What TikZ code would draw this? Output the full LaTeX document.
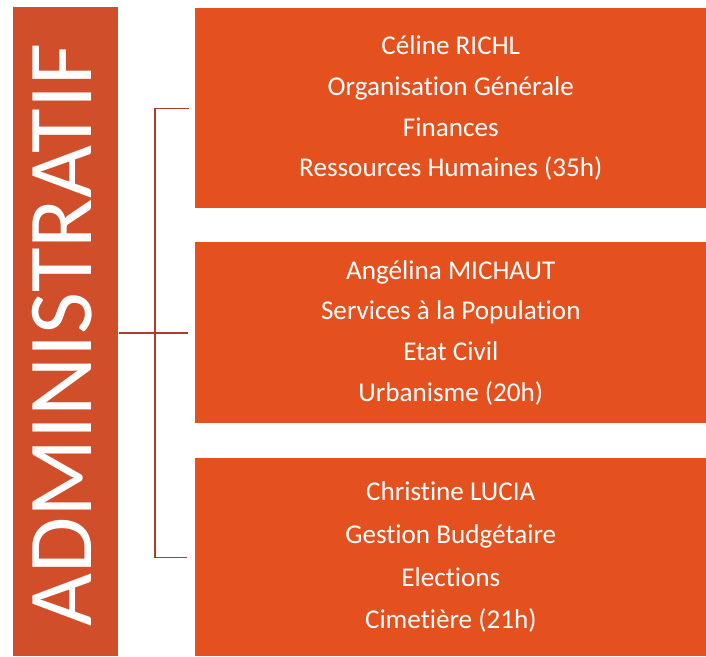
\documentclass[tikz,border=0pt]{standalone}
\usepackage{fontspec}
\setmainfont{Carlito}[Ligatures=NoCommon]
\definecolor{boxorange}{HTML}{E4511F}
\definecolor{barorange}{HTML}{D04E2A}
\definecolor{linkred}{HTML}{B23A2A}
\tikzset{
  postbox/.style={fill=boxorange,draw=none,anchor=north west,inner sep=0pt,
    minimum width=12.775cm,text=white,align=center,
    font=\fontsize{19.3}{29}\selectfont},
  link/.style={draw=linkred,line width=.9pt}
}
\begin{document}
\begin{tikzpicture}
\useasboundingbox (0,0) rectangle (17.65,16.4);
\node[fill=barorange,anchor=south west,inner sep=0pt,minimum width=2.625cm,minimum height=16.225cm] (bar) at (.325,0) {};
\node[rotate=90,text=white,font=\fontsize{65}{65}\selectfont] (title) at (1.55,8.02) {ADMINISTRATIF};
\node[postbox,minimum height=5cm] (richl) at (4.875,16.2) {C\'eline RICHL\\Organisation G\'en\'erale\\Finances\\Ressources Humaines (35h)};
\node[postbox,minimum height=4.525cm] (michaut) at (4.875,10.35) {Ang\'elina MICHAUT\\Services \`a la Population\\Etat Civil\\Urbanisme (20h)};
\node[postbox,minimum height=4.95cm,font=\fontsize{19.3}{30.3}\selectfont] (lucia) at (4.875,4.95) {Christine LUCIA\\Gestion Budg\'etaire\\Elections\\Cimeti\`ere (21h)};
\coordinate (hub) at (3.875,8.075);
\coordinate (top) at (hub |- richl.west);
\coordinate (bottom) at (hub |- lucia.west);
\draw[link] (bar.east |- hub) -- ([xshift=-.17cm]michaut.west |- hub);
\draw[link] ([xshift=-.15cm]richl.west) -- (top) -- (bottom) -- ([xshift=-.2cm]lucia.west);
\end{tikzpicture}
\end{document}
